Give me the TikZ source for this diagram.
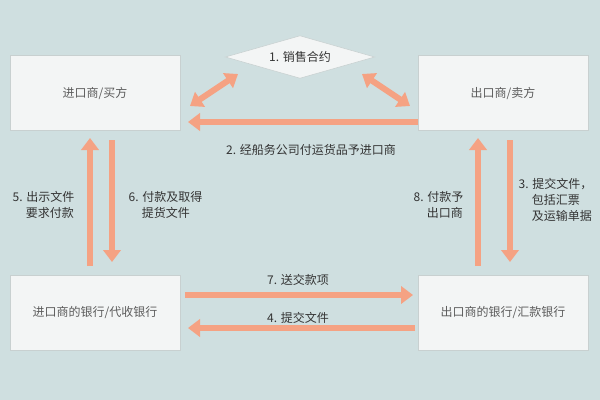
\documentclass[tikz,border=0pt]{standalone}
\usepackage{fontspec}
\setmainfont{Noto Sans CJK SC}
\usetikzlibrary{arrows.meta,shapes.geometric}
\definecolor{bg}{HTML}{CFDFE0}
\definecolor{boxf}{HTML}{F3F5F5}
\definecolor{boxd}{HTML}{C8D0D0}
\definecolor{arr}{HTML}{F5A283}
\definecolor{txt}{HTML}{333333}
\begin{document}
\begin{tikzpicture}[x=0.75pt,y=-0.75pt,
  box/.style={draw=boxd,fill=boxf,minimum width=127.5pt,minimum height=56pt,inner sep=0pt,text=txt!80,font=\fontsize{9}{11}\selectfont},
  lab/.style={text=txt,font=\fontsize{9}{12}\selectfont,align=left},
  ar/.style={draw=arr,line width=4.5pt,-{Triangle[length=9pt,width=13pt]}},
  dar/.style={draw=arr,line width=4.5pt,{Triangle[length=9pt,width=13pt]}-{Triangle[length=9pt,width=13pt]}}]
\fill[bg] (0,0) rectangle (600,400);
\useasboundingbox (0,0) rectangle (600,400);
\node[box] (imp) at (95,93) {进口商/买方};
\node[box] (exp) at (503,93) {出口商/卖方};
\node[box] (ib) at (95,313) {进口商的银行/代收银行};
\node[box] (eb) at (503,313) {出口商的银行/汇款银行};
\node[diamond,draw=boxd,fill=boxf,minimum width=112pt,minimum height=32pt,inner sep=0pt,aspect=3.6,text=txt,font=\fontsize{9}{11}\selectfont] (d) at (300,57) {1. 销售合约};
\coordinate (d1) at (238,74); \coordinate (d2) at (362,74);
\coordinate (i1) at (190,106); \coordinate (e1) at (410,106);
\draw[dar] (i1) -- (d1);
\draw[dar] (d2) -- (e1);
\draw[ar] (exp.east |- 0,122) ++(-170,0) coordinate (a2s) (a2s) -- (188,122) coordinate (a2e);
\node[lab] (l2) at (311,150) {2. 经船务公司付运货品予进口商};
\draw[ar] (90,266) coordinate (a5s) -- (90,138) coordinate (a5e);
\node[lab,anchor=west] (l5) at (8,205) {5. 出示文件\\\hspace{1.1em}要求付款};
\draw[ar] (112,140) coordinate (a6s) -- (112,262) coordinate (a6e);
\node[lab,anchor=west] (l6) at (124,205) {6. 付款及取得\\\hspace{1.1em}提货文件};
\draw[ar] (478,266) coordinate (a8s) -- (478,138) coordinate (a8e);
\node[lab,anchor=east] (l8) at (468,205) {8. 付款予\\\hspace{1.1em}出口商};
\draw[ar] (510,140) coordinate (a3s) -- (510,262) coordinate (a3e);
\node[lab,anchor=west] (l3) at (514,200) {3. 提交文件，\\\hspace{1.1em}包括汇票\\\hspace{1.1em}及运输单据};
\draw[ar] (185,295) coordinate (a7s) -- (413,295) coordinate (a7e);
\node[lab] (l7) at (298,280) {7. 送交款项};
\draw[ar] (415,328) coordinate (a4s) -- (188,328) coordinate (a4e);
\node[lab] (l4) at (298,318) {4. 提交文件};
\end{tikzpicture}
\end{document}
